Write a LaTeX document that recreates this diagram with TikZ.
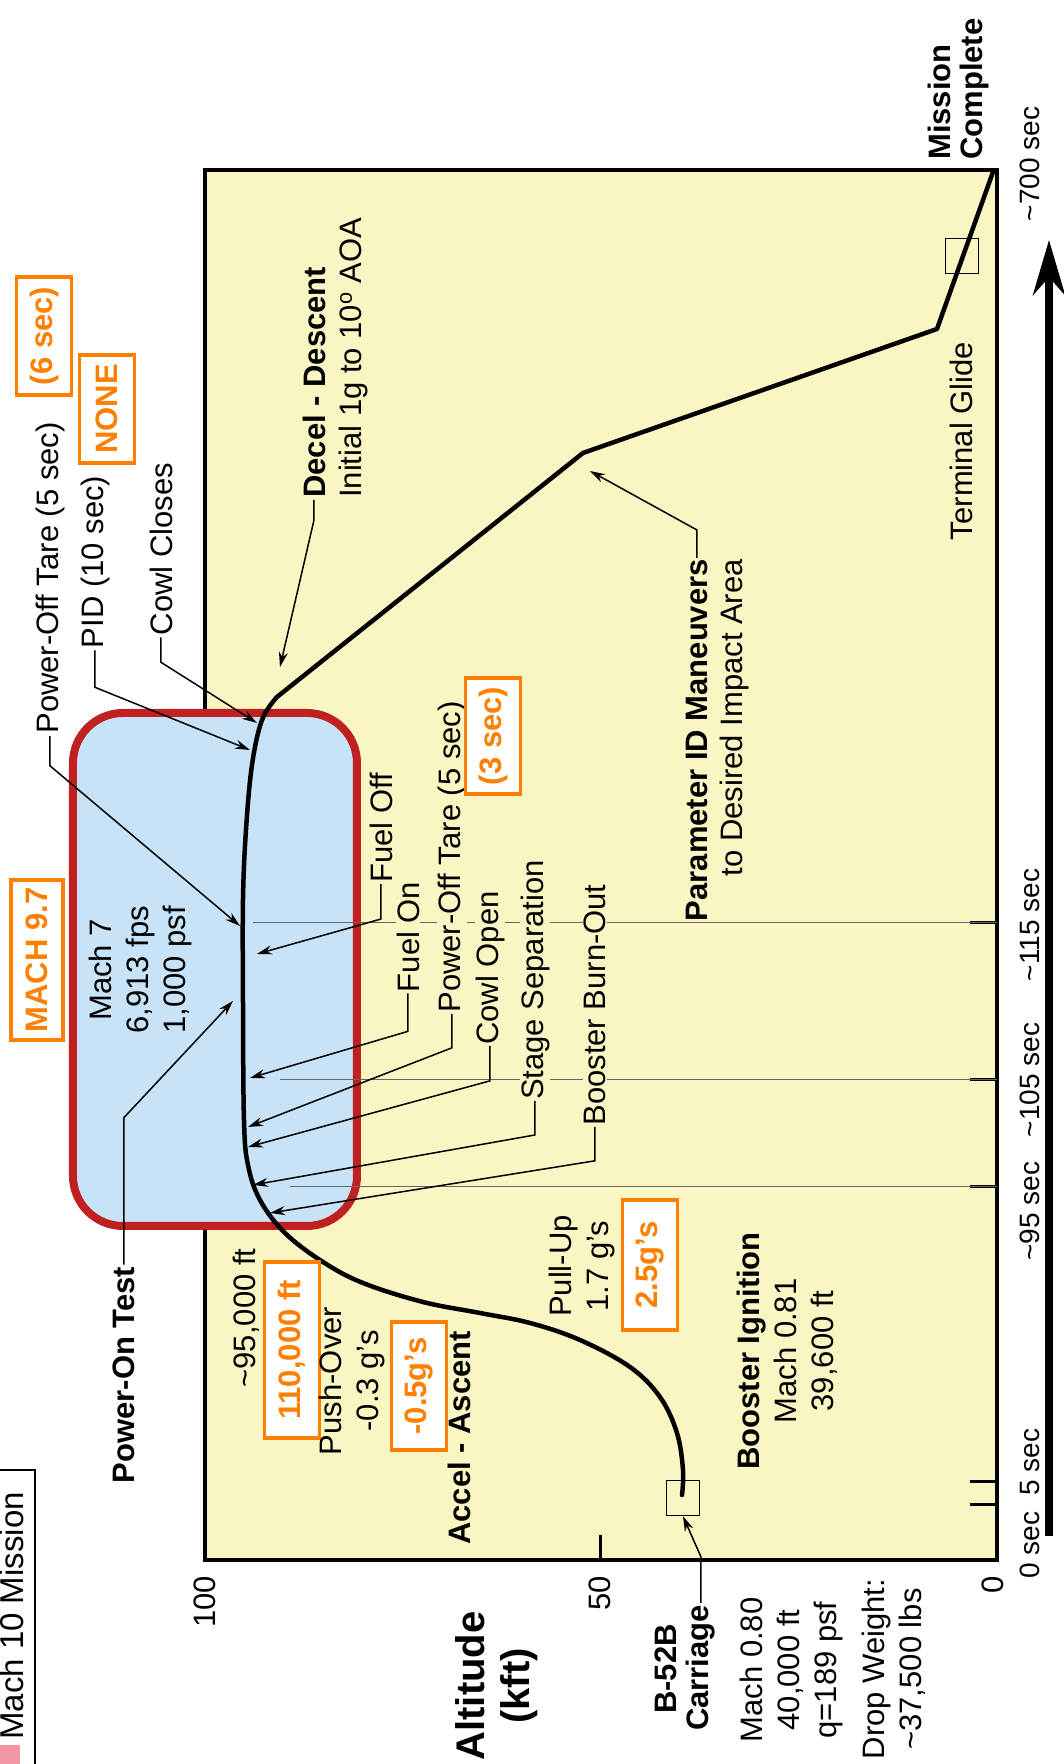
\documentclass[tikz,border=0pt]{standalone}
\usepackage{fontspec}
\setmainfont{Liberation Sans}
\usetikzlibrary{arrows.meta}

\definecolor{plotbg}{RGB}{250,246,195}
\definecolor{boxblue}{RGB}{200,227,247}
\definecolor{boxred}{RGB}{192,32,32}
\definecolor{orng}{RGB}{255,128,0}
\definecolor{pinkc}{RGB}{240,150,165}

\begin{document}
\begin{tikzpicture}[x=1pt, y=1pt, rotate=90, transform shape,
    lbl/.style={font=\fontsize{31}{37}\selectfont, align=center, inner sep=2pt},
    blbl/.style={lbl, font=\fontsize{31}{37}\selectfont\bfseries},
    onplot/.style={fill=plotbg, inner sep=1pt},
    ticklbl/.style={font=\fontsize{28}{34}\selectfont, inner sep=2pt},
    obox/.style={draw=orng, line width=3.5pt, fill=white, text=orng,
      font=\fontsize{31}{37}\selectfont\bfseries, minimum height=55pt, inner sep=0pt},
    lead/.style={line width=1.5pt, -{Stealth[length=15pt, width=9pt]}},
    flight/.style={line width=4.5pt, line cap=round, line join=round},
    timeline/.style={black!60, line width=1pt}]

    \useasboundingbox (0,0) rectangle (1764,1063);

    % title corner
    \fill[pinkc] (0,1043) rectangle (19,1063);
    \draw[line width=1.5pt] (0,1028) -- (294,1028) -- (294,1063);
    \node[font=\fontsize{33}{40}\selectfont, anchor=base, inner sep=0pt] (title) at (148,1039) {Mach 10 Mission};

    % plot frame and ticks
    \draw[fill=plotbg, line width=3.5pt] (204,66) rectangle (1594,858);
    \foreach \t in {259,282,577,684,841}
        \draw[line width=3pt] (\t,66) -- (\t,93);
    \draw[line width=3pt] (204,462) -- (229,462);

    % test window
    \draw[fill=boxblue, draw=boxred, line width=8pt, rounded corners=50pt] (538,706) rectangle (1051,990);

    % time marks
    \foreach \t/\s in {841/810, 684/783, 577/773}
        \draw[timeline] (\t,\s) -- (\t,66);

    % flight path
    \draw[flight] plot[smooth, tension=0.6] coordinates {(269,381) (294,380) (331,386) (367,403) (397,433)
        (424,483) (441,533) (451,583) (462,640) (481,700) (502,740) (531,778) (564,803) (599,815)
        (644,819) (764,820) (864,820) (934,817) (999,811) (1044,801) (1067,786)}
        -- (1311,480) -- (1435,126) -- (1592,70);
    \node[draw, line width=1.5pt, minimum width=35pt, minimum height=33pt, inner sep=0pt] (dropbox) at (266,380) {};
    \node[draw, line width=1.5pt, minimum width=35pt, minimum height=33pt, inner sep=0pt] (glidebox) at (1508,101) {};

    % arrow targets on the path
    \coordinate (tPowerOn) at (763,830);
    \coordinate (tTareA) at (838,823);
    \coordinate (tPid) at (1014,813);
    \coordinate (tCowlCl) at (1041,806);
    \coordinate (tDecel) at (1097,783);
    \coordinate (tFuelOff) at (810,806);
    \coordinate (tFuelOn) at (686,813);
    \coordinate (tTareB) at (637,815);
    \coordinate (tCowlOp) at (617,815);
    \coordinate (tStage) at (579,810);
    \coordinate (tBurnOut) at (551,793);
    \coordinate (tParam) at (1293,473);

    % time axis
    \coordinate (tstart) at (228,14);
    \coordinate (tend) at (1524,14);
    \draw[line width=8pt, -{Stealth[length=55pt, width=32pt]}] (tstart) -- (tend);
    \node[ticklbl] (t0) at (219,33) {0 sec};
    \node[ticklbl] (t5) at (302,33) {5 sec};
    \node[ticklbl] (t95) at (553,33) {\textasciitilde 95 sec};
    \node[ticklbl] (t105) at (684,33) {\textasciitilde 105 sec};
    \node[ticklbl] (t115) at (839,33) {\textasciitilde 115 sec};
    \node[ticklbl] (t700) at (1600,33) {\textasciitilde 700 sec};

    % altitude axis
    \node[lbl, anchor=east] (a100) at (190,858) {100};
    \node[lbl, anchor=east] (a50) at (190,463) {50};
    \node[lbl, anchor=east] (a0) at (190,70) {0};
    \node[lbl, font=\fontsize{40}{45}\selectfont\bfseries] (alt) at (78,566) {Altitude\\(kft)};

    % drop conditions
    \node[blbl] (b52) at (95,397) {B-52B};
    \node[blbl] (carriage) at (96,362) {Carriage};
    \node[lbl] (dropcond) at (94,272) {Mach 0.80\\40,000 ft\\q=189 psf};
    \node[lbl] (dropwt) at (95,169) {Drop Weight:\\\textasciitilde 37,500 lbs};

    % ascent
    \node[lbl] (ignition) at (413,276) {\textbf{Booster Ignition}\\Mach 0.81\\39,600 ft};
    \node[lbl] (pullup) at (498,481) {Pull-Up\\1.7 g’s};
    \node[obox, minimum width=130pt] (pullnew) at (499,413) {2.5g’s};
    \node[lbl] (alt95) at (446,817) {\textasciitilde 95,000 ft};
    \node[obox, minimum width=176pt] (altnew) at (414,771) {110,000 ft};
    \node[lbl] (pushover) at (383,711) {Push-Over\\-0.3 g’s};
    \node[obox, minimum width=128pt] (pushnew) at (378,644) {-0.5g’s};
    \node[blbl] (accel) at (326,604) {Accel - Ascent};
    \node[blbl] (poweron) at (389,939) {Power-On Test};

    % test window
    \node[lbl] (cruise) at (794,923) {Mach 7\\6,913 fps\\1,000 psf};
    \node[obox, minimum width=160pt, minimum height=52pt] (machnew) at (804,1026) {MACH 9.7};

    % events along the cruise
    \node[lbl, onplot] (fueloff) at (936,682) {Fuel Off};
    \node[lbl, onplot] (fuelon) at (827,655) {Fuel On};
    \node[lbl, onplot] (tareb) at (907,611) {Power-Off Tare (5 sec)};
    \node[obox, minimum width=116pt] (tarebnew) at (1028,570) {(3 sec)};
    \node[lbl, onplot] (cowlop) at (796,573) {Cowl Open};
    \node[lbl, onplot] (stage) at (784,528) {Stage Separation};
    \node[lbl, onplot] (burnout) at (759,468) {Booster Burn-Out};

    % events after the cruise
    \node[lbl] (tarea) at (1186,1013) {Power-Off Tare (5 sec)};
    \node[obox, minimum width=118pt] (tareanew) at (1428,1019) {(6 sec)};
    \node[lbl] (pid) at (1202,968) {PID (10 sec)};
    \node[obox, minimum width=108pt] (pidnew) at (1355,956) {NONE};
    \node[lbl] (cowlcl) at (1215,902) {Cowl Closes};

    % descent
    \node[blbl, anchor=west] (decel) at (1264,749) {Decel - Descent};
    \node[lbl, anchor=west] (initial) at (1264,710) {Initial 1g to 10\textsuperscript{o} AOA};
    \node[blbl, onplot, anchor=east] (param) at (1206,366) {Parameter ID Maneuvers};
    \node[lbl, onplot, anchor=east] (desired) at (1206,329) {to Desired Impact Area};
    \node[lbl] (glide) at (1323,102) {Terminal Glide};
    \node[blbl, align=left, anchor=west, font=\fontsize{31}{32}\selectfont\bfseries] (done) at (1602,105) {Mission\\Complete};

    % leaders
    \draw[lead] (carriage.east) -- ++(46,0) -- (dropbox.west);
    \draw[lead] (poweron.east) -- ++(147,0) -- (tPowerOn);
    \draw[lead] (fueloff.west) -- ++(-35,0) -- (tFuelOff);
    \draw[lead] (fuelon.west) -- ++(-38,0) -- (tFuelOn);
    \draw[lead] (tareb.west) -- ++(-34,0) -- (tTareB);
    \draw[lead] (cowlop.west) -- ++(-35,0) -- (tCowlOp);
    \draw[lead] (stage.west) -- ++(-34,0) -- (tStage);
    \draw[lead] (burnout.west) -- ++(-34,0) -- (tBurnOut);
    \draw[lead] (tarea.west) -- ++(-30,0) -- (tTareA);
    \draw[lead] (pid.west) -- ++(-37,0) -- (tPid);
    \draw[lead] (cowlcl.west) -- ++(-25,0) -- (tCowlCl);
    \draw[lead] (decel.west) -- ++(-20,0) -- (tDecel);
    \draw[lead] (param.east) -- ++(28,0) -- (tParam);
\end{tikzpicture}
\end{document}
